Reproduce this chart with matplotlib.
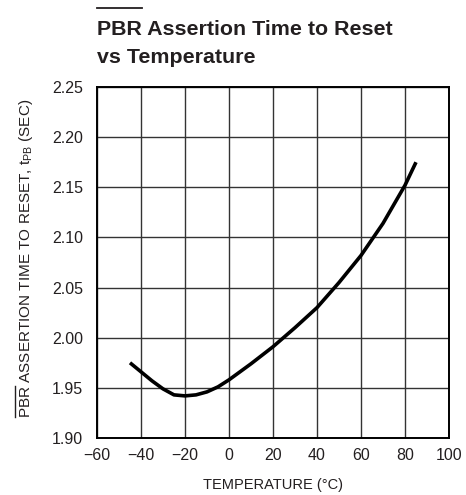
import matplotlib
matplotlib.use("Agg")
import matplotlib.pyplot as plt
from matplotlib.lines import Line2D

temperature = [-45, -40, -35, -30, -25, -20, -15, -10, -5, 0, 10, 20, 30, 40, 50, 60, 70, 80, 85]
assert_time = [1.975, 1.966, 1.957, 1.949, 1.943, 1.942, 1.943, 1.946, 1.951, 1.958,
               1.974, 1.991, 2.010, 2.030, 2.055, 2.082, 2.114, 2.152, 2.175]
x_ticks = [-60, -40, -20, 0, 20, 40, 60, 80, 100]
y_ticks = [1.90, 1.95, 2.00, 2.05, 2.10, 2.15, 2.20, 2.25]

FONT = 'Liberation Sans'
plt.rcParams['font.family'] = [FONT, 'DejaVu Sans']
plt.rcParams['mathtext.fontset'] = 'custom'
plt.rcParams['mathtext.rm'] = FONT
plt.rcParams['mathtext.it'] = FONT
plt.rcParams['mathtext.bf'] = FONT + ':bold'

W, H = 466, 495
fig = plt.figure(figsize=(W / 100, H / 100), dpi=100)
L, R, T, B = 97, 449, 87, 438
ax = fig.add_axes([L / W, 1 - B / H, (R - L) / W, (B - T) / H])

ink = '#231f20'
ax.plot(temperature, assert_time, color='black', lw=2.6, solid_capstyle='butt', zorder=3)
ax.set_xlim(-60, 100)
ax.set_ylim(1.90, 2.25)
ax.set_xticks(x_ticks)
ax.set_xticklabels(['\u2212' + str(-t) if t < 0 else str(t) for t in x_ticks])
ax.set_yticks(y_ticks)
ax.set_yticklabels([f"{v:.2f}" for v in y_ticks])
ax.grid(True, color='#333333', lw=1.0)
ax.tick_params(length=0, labelsize=11.5, labelcolor=ink)
ax.tick_params(axis='y', pad=10)
ax.tick_params(axis='x', pad=7)
for s in ax.spines.values():
    s.set_linewidth(1.4)
    s.set_color('black')

ax.set_xlabel('TEMPERATURE (\u00b0C)', fontsize=10.5, labelpad=11, color=ink)
ylab_size = 11
ax.set_ylabel(r'PBR ASSERTION TIME TO RESET, t$_{\mathrm{PB}}$ (SEC)',
              fontsize=ylab_size, color=ink)
ax.yaxis.set_label_coords(-(L - 35) / (R - L), 0.5 + (262.5 - 258) / (B - T))

tsize = 15.4
fig.text(L / W, 1 - 35 / H, 'PBR Assertion Time to Reset', fontsize=tsize, fontweight='bold',
         ha='left', va='baseline', color=ink)
fig.text(L / W, 1 - 63 / H, 'vs Temperature', fontsize=tsize, fontweight='bold',
         ha='left', va='baseline', color=ink)
probe = fig.text(L / W, 1 - 35 / H, 'PBR', fontsize=tsize, fontweight='bold',
                 ha='left', va='baseline', alpha=0)
probe2 = fig.text(0.5, 0.5, 'PBR', fontsize=ylab_size, ha='left', va='baseline', alpha=0)
fig.canvas.draw()
bb = probe.get_window_extent()
w2 = probe2.get_window_extent().width
probe.remove()
probe2.remove()
fig.add_artist(Line2D([bb.x0 / W, bb.x1 / W], [1 - 7.5 / H, 1 - 7.5 / H],
                      transform=fig.transFigure, color=ink, lw=1.3))
lb = ax.yaxis.label.get_window_extent()
ox = lb.x0 - 1.5
fig.add_artist(Line2D([ox / W, ox / W], [(lb.y0 + 0.5) / H, (lb.y0 + w2) / H],
                      transform=fig.transFigure, color=ink, lw=1.0))

fig.savefig('out.png', dpi=100)
